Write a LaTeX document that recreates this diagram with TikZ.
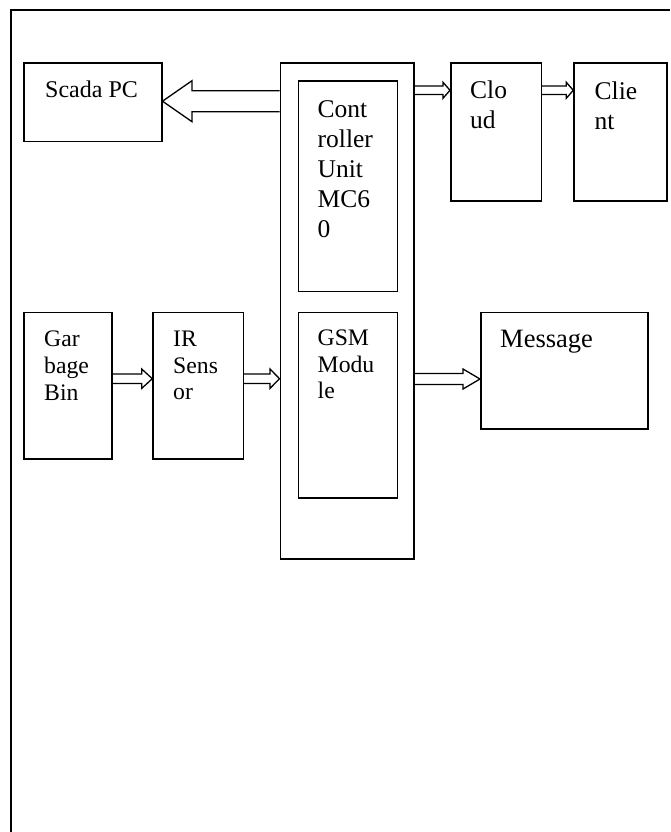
\documentclass[tikz,border=0pt]{standalone}
\usepackage{fontspec}
\setmainfont{Liberation Serif}
\usetikzlibrary{calc}

\newcommand{\upperfont}{\fontsize{25.5}{30}\selectfont}
\newcommand{\lowerfont}{\fontsize{23.7}{26.8}\selectfont}

\tikzset{
  box/.style={draw, line width=1.5pt, inner sep=0pt, anchor=north west},
  boxtext/.style={inner sep=0pt, anchor=north west, align=left},
  arrowline/.style={draw, line width=1.3pt, line join=miter},
}

% hollow block arrow: from, to, shaft half width, head half width, head length
\newcommand{\blockarrow}[5]{%
  \draw[arrowline] let \p1=#1, \p2=#2, \n1={sign(\x2-\x1)} in
    ({\x1},{\y1+#3pt}) -- ({\x2-(\n1)*#5pt},{\y1+#3pt}) -- ({\x2-(\n1)*#5pt},{\y1+#4pt})
    -- ({\x2},{\y1}) -- ({\x2-(\n1)*#5pt},{\y1-#4pt}) -- ({\x2-(\n1)*#5pt},{\y1-#3pt})
    -- ({\x1},{\y1-#3pt});
}

\begin{document}
\begin{tikzpicture}[x=1pt,y=-1pt]
  \useasboundingbox (0,0) rectangle (670,832);

  % ============================================================
  %                       FRAME
  % ============================================================
  \draw[line width=2pt] (670,10.5) -- (10.5,10.5) -- (10.5,832);

  % ============================================================
  %                       BOXES
  % ============================================================
  \node[box, minimum width=137.7pt, minimum height=78.4pt]  (scada)   at (23.3,62.3)  {};
  \node[box, minimum width=133.5pt, minimum height=495.8pt] (ctrlout) at (279.5,62.5) {};
  \node[box, minimum width=99pt,    minimum height=210pt]   (ctrl)    at (297.5,80.5) {};
  \node[box, minimum width=99pt,    minimum height=185.4pt] (gsm)     at (297.5,311.7) {};
  \node[box, minimum width=90.7pt,  minimum height=137.7pt] (cloud)   at (450,62.3)   {};
  \node[box, minimum width=92.7pt,  minimum height=137.7pt] (client)  at (573.3,62.3) {};
  \node[box, minimum width=87.7pt,  minimum height=146.6pt] (bin)     at (23.3,311.7) {};
  \node[box, minimum width=90.4pt,  minimum height=146.6pt] (ir)      at (152.3,311.7) {};
  \node[box, minimum width=167.3pt, minimum height=116.6pt] (message) at (480,311.7)  {};

  % ============================================================
  %                       TEXTS
  % ============================================================
  \node[boxtext, font=\fontsize{24}{30}\selectfont] (scadatxt) at (45,80.4) {Scada PC};
  \node[boxtext, font=\upperfont] (ctrltxt)   at (317.5,100.7) {Cont\\roller\\Unit\\MC6\\0};
  \node[boxtext, font=\upperfont] (cloudtxt)  at (470,81)      {Clo\\ud};
  \node[boxtext, font=\upperfont] (clienttxt) at (594.5,81.5)  {Clie\\nt};
  \node[boxtext, font=\lowerfont] (bintxt)    at (44,330.6)    {Gar\\bage\\Bin};
  \node[boxtext, font=\lowerfont] (irtxt)     at (173,330.6)   {IR\\Sens\\or};
  \node[boxtext, font=\lowerfont] (gsmtxt)    at (317.5,329.5) {GSM\\Modu\\le};
  \node[boxtext, font=\fontsize{26.5}{30}\selectfont] (messagetxt) at (500,330) {Message};

  % ============================================================
  %                       ARROWS
  % ============================================================
  \coordinate (scadarow)  at (0,101.2);
  \coordinate (cloudrow)  at (0,90.3);
  \coordinate (sensorrow) at (0,378.7);
  \coordinate (msgrow)    at (0,379);

  \blockarrow{(ctrlout.west |- scadarow)}{(scada.east |- scadarow)}{10.5}{20.5}{29.5}
  \blockarrow{(ctrlout.east |- cloudrow)}{(cloud.west |- cloudrow)}{4.2}{8}{7}
  \blockarrow{(cloud.east |- cloudrow)}{(client.west |- cloudrow)}{4.2}{8}{7}
  \blockarrow{(bin.east |- sensorrow)}{(ir.west |- sensorrow)}{4.7}{9.7}{10.6}
  \blockarrow{(ir.east |- sensorrow)}{(ctrlout.west |- sensorrow)}{4.7}{9.7}{9.5}
  \blockarrow{(ctrlout.east |- msgrow)}{(message.west |- msgrow)}{5.5}{10}{17}

\end{tikzpicture}
\end{document}
